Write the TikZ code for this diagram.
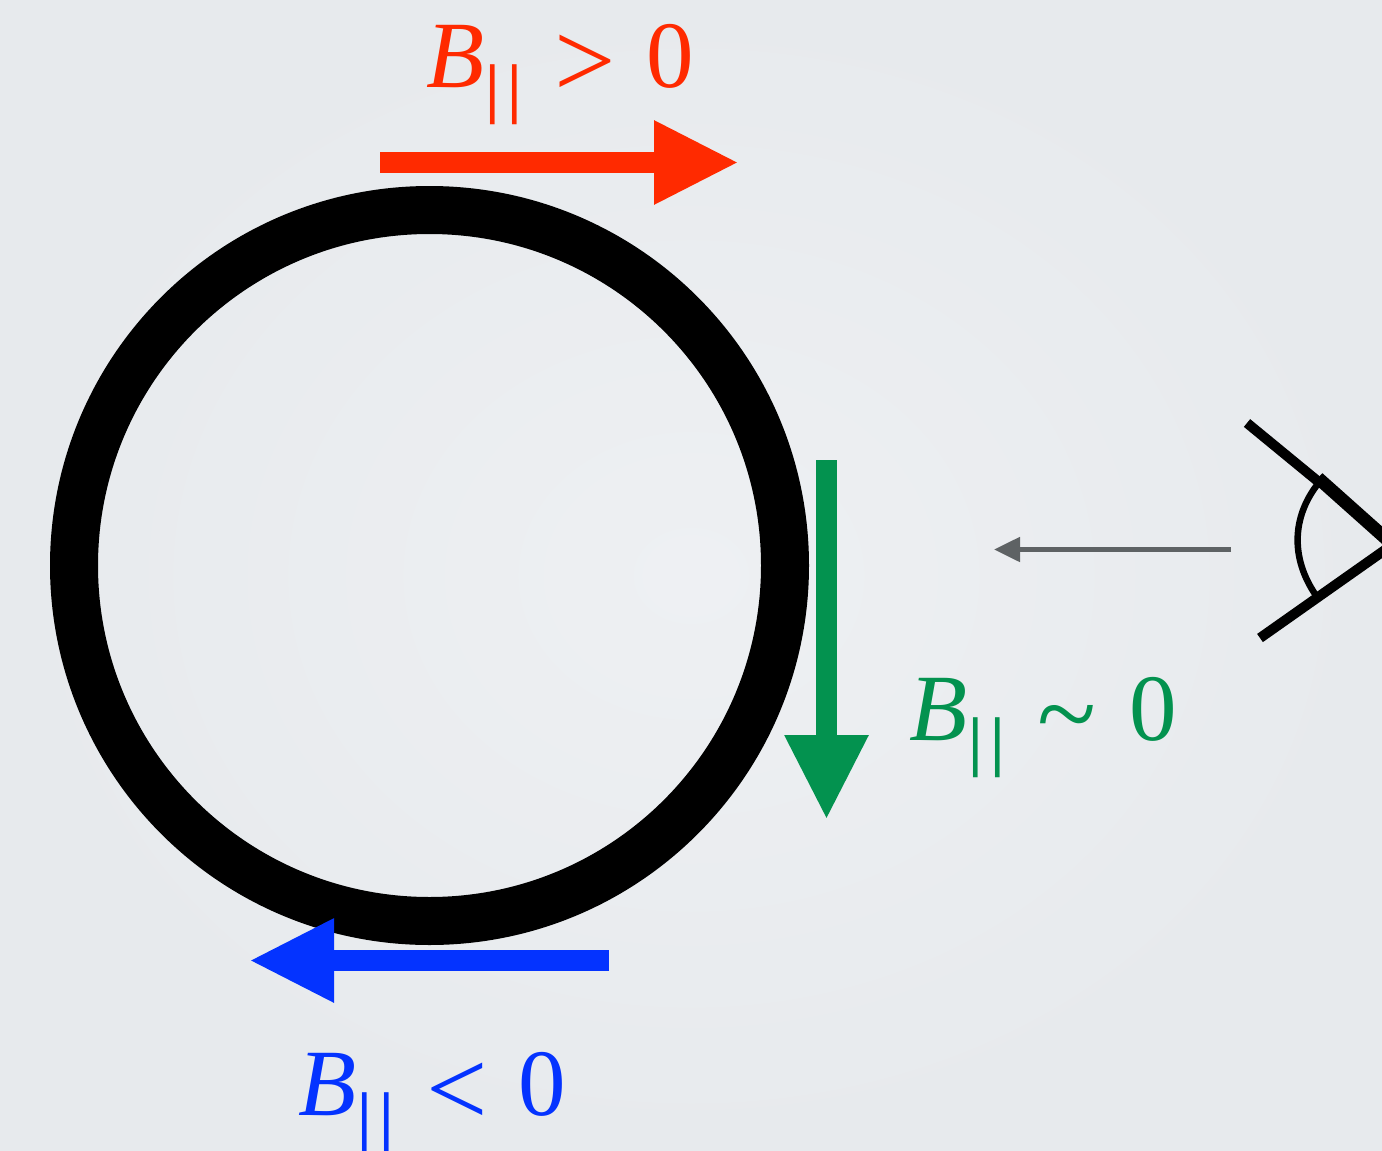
\documentclass[tikz,border=0pt]{standalone}
\usepackage{fontspec}
\setmainfont{Liberation Serif}
\usetikzlibrary{arrows.meta}
\definecolor{bgmid}{HTML}{EEF0F3}
\definecolor{bgedge}{HTML}{E7EAED}
\definecolor{redc}{HTML}{FF2A00}
\definecolor{greenc}{HTML}{03924F}
\definecolor{bluec}{HTML}{0433FF}
\definecolor{greyc}{HTML}{5E6264}
\newcommand{\bparlabel}[1]{\fontsize{95}{95}\selectfont\textit{B}\kern1pt\raisebox{-23pt}{\fontsize{66}{66}\selectfont\textbf{|}\kern8pt\textbf{|}}\kern32.5pt\raisebox{-10.6pt}{\fontsize{109}{109}\selectfont #1}\kern30pt 0}
\tikzset{
  bigarrow/.style={line width=21pt,-{Triangle[length=85pt,width=78pt]}},
  viewarrow/.style={line width=5pt,greyc,-{Triangle[length=26pt,width=24pt]}},
  bparnode/.style={inner sep=0pt,anchor=base west},
  lid/.style={line width=10pt,black},
}
\begin{document}
\begin{tikzpicture}[x=1pt,y=-1pt]
\useasboundingbox (0,0) rectangle (1382,1151);
\clip (0,0) rectangle (1382,1151);
\shade[inner color=bgmid,outer color=bgedge] (0,0) rectangle (1382,1151);
\node[draw=black,line width=48pt,circle,minimum size=711pt,inner sep=0pt,outer sep=0pt] (ring) at (429.5,565.5) {};
\coordinate (rs) at (380,162.5); \coordinate (re) at (739,162.5);
\coordinate (gs) at (826.5,460); \coordinate (ge) at (826.5,820);
\coordinate (bs) at (609,960.5); \coordinate (be) at (249,960.5);
\coordinate (vs) at (1231,549.5); \coordinate (ve) at (994,549.5);
\draw[bigarrow,redc] (rs) -- (re);
\draw[bigarrow,greenc] (gs) -- (ge);
\draw[bigarrow,bluec] (bs) -- (be);
\draw[viewarrow] (vs) -- (ve);
\node[bparnode,text=redc] (lr) at (426,87) {\bparlabel{>}};
\node[bparnode,text=greenc] (lg) at (909,740) {\bparlabel{\char"7E\kern3pt}};
\node[bparnode,text=bluec] (lb) at (298,1115) {\bparlabel{<}};
\coordinate (u1) at (1247,423); \coordinate (u2) at (1320,483);
\coordinate (u3) at (1318,478); \coordinate (ap) at (1392,544);
\coordinate (l1) at (1260,638); \coordinate (l2) at (1392,545);
\draw[lid] (u1) -- (u2);
\draw[line width=13pt] (u3) -- (ap);
\draw[lid] (l1) -- (l2);
\draw[line width=6.5pt] (1317,485) .. controls (1292,518) and (1291,558) .. (1315,594);
\end{tikzpicture}
\end{document}
